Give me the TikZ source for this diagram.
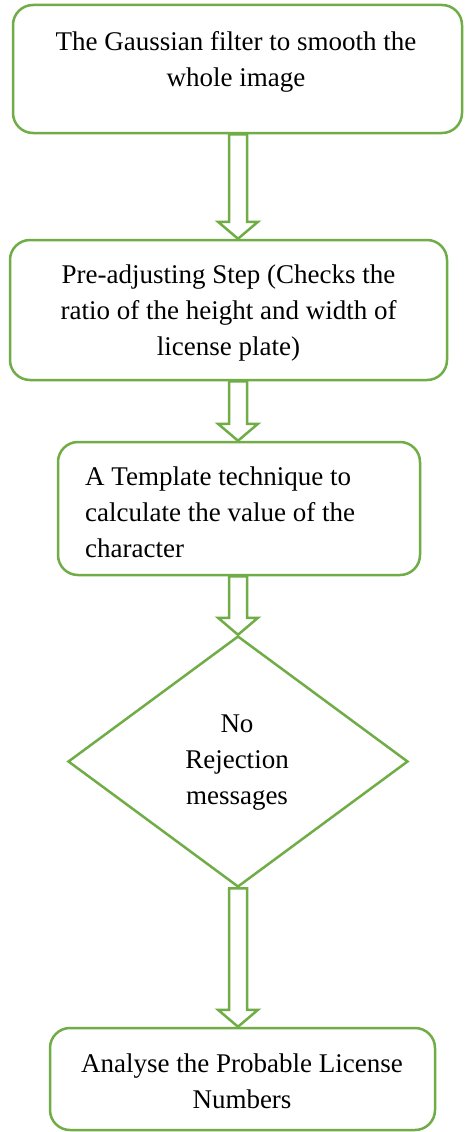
\documentclass[tikz,border=0pt]{standalone}
\usepackage{fontspec}
\setmainfont{Liberation Serif}
\usetikzlibrary{shapes.geometric,calc}
\definecolor{flowgreen}{RGB}{112,173,71}
\begin{document}
\begin{tikzpicture}[x=1pt,y=-1pt,
  stepbox/.style={draw=flowgreen,line width=2.5pt,rounded corners=20pt,rectangle,inner sep=0pt},
  decision/.style={draw=flowgreen,line width=2.5pt,diamond,inner sep=0pt},
  steptext/.style={font=\fontsize{27}{36}\selectfont,inner sep=0pt,align=center,text=black},
  flowarrow/.style={draw=flowgreen,line width=2.5pt,line join=miter}]

\useasboundingbox (0,0) rectangle (464,1132);
\fill[white] (0,0) rectangle (464,1132);

% process boxes and the decision diamond
\node[stepbox,minimum width=449pt,minimum height=128pt] (b1) at (237.5,69) {};
\node[stepbox,minimum width=437pt,minimum height=140pt] (b2) at (228.5,310) {};
\node[stepbox,minimum width=362pt,minimum height=133pt] (b3) at (239,508.5) {};
\node[decision,minimum width=340pt,minimum height=251pt] (d) at (238,761.5) {};
\node[stepbox,minimum width=385pt,minimum height=102pt] (b5) at (242.5,1079) {};

% texts
\node[steptext] (t1) at (236,61.5) {The Gaussian filter to smooth the\\whole image};
\node[steptext] (t2) at (228.5,313) {Pre-adjusting Step (Checks the\\ratio of the height and width of\\license plate)};
\node[steptext,align=left,anchor=west] (t3) at (85,512.5) {A Template technique to\\calculate the value of the\\character};
\node[steptext] (t4) at (237,763) {No\\Rejection\\messages};
\node[steptext] (t5) at (242,1081) {Analyse the Probable License\\Numbers};

% hollow block arrows along a common axis
\coordinate (ax) at (238,0);
\newcommand\blockarrow[2]{%
  \draw[flowarrow] ($(#1 -| ax)+(-9,0)$) -- ($(#2 -| ax)+(-9,-17)$)
    -- ($(#2 -| ax)+(-20,-17)$) -- (#2 -| ax) -- ($(#2 -| ax)+(20,-17)$)
    -- ($(#2 -| ax)+(9,-17)$) -- ($(#1 -| ax)+(9,0)$) -- cycle;}
\blockarrow{b1.south}{b2.north}
\blockarrow{b2.south}{b3.north}
\blockarrow{b3.south}{d.north}
\blockarrow{d.south}{b5.north}
\end{tikzpicture}
\end{document}
